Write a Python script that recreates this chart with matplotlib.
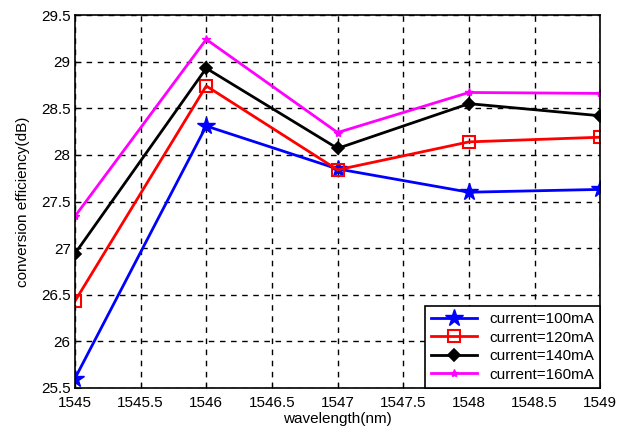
import matplotlib
matplotlib.use("Agg")
import matplotlib.pyplot as plt

plt.rcParams['font.family'] = ['Liberation Sans', 'DejaVu Sans']

wavelength = [1545, 1546, 1547, 1548, 1549]
eff_100 = [25.60, 28.31, 27.85, 27.60, 27.63]
eff_120 = [26.43, 28.74, 27.84, 28.14, 28.19]
eff_140 = [26.94, 28.93, 28.07, 28.55, 28.42]
eff_160 = [27.34, 29.24, 28.24, 28.67, 28.66]
labels = ["current=100mA", "current=120mA", "current=140mA", "current=160mA"]

fig = plt.figure(figsize=(6.24, 4.32), dpi=100)
ax = fig.add_axes([0.12, 0.102, 0.842, 0.863])

ax.plot(wavelength, eff_100, color="blue", marker="*", markersize=13, lw=2, label=labels[0])
ax.plot(wavelength, eff_120, color="red", marker="s", markersize=8, mfc="none", mew=1.5, lw=2, label=labels[1])
ax.plot(wavelength, eff_140, color="black", marker="D", markersize=6, mew=1.2, lw=2, label=labels[2])
ax.plot(wavelength, eff_160, color="magenta", marker="*", markersize=6, lw=2, label=labels[3])

ax.set_xlim(1545, 1549)
ax.set_ylim(25.5, 29.5)
ax.set_xticks([1545, 1545.5, 1546, 1546.5, 1547, 1547.5, 1548, 1548.5, 1549])
ax.set_xticklabels(["1545", "1545.5", "1546", "1546.5", "1547", "1547.5", "1548", "1548.5", "1549"])
ax.set_yticks([25.5, 26, 26.5, 27, 27.5, 28, 28.5, 29, 29.5])
ax.set_yticklabels(["25.5", "26", "26.5", "27", "27.5", "28", "28.5", "29", "29.5"])
ax.tick_params(direction="in", labelsize=11, length=4)
ax.tick_params(axis="x", pad=6)
ax.tick_params(axis="y", pad=3)
ax.grid(True, color="black", linestyle=(0, (4, 4)), lw=1)
for s in ax.spines.values():
    s.set_linewidth(1.2)

ax.set_xlabel("wavelength(nm)", fontsize=11, labelpad=1)
ax.set_ylabel("conversion efficiency(dB)", fontsize=11, labelpad=8)

leg = ax.legend(loc="lower right", fontsize=11, fancybox=False, framealpha=1,
                edgecolor="black", borderaxespad=0, handlelength=3.0,
                labelspacing=0.3, borderpad=0.4)
leg.get_frame().set_linewidth(1.2)

fig.savefig("out.png", dpi=100)
